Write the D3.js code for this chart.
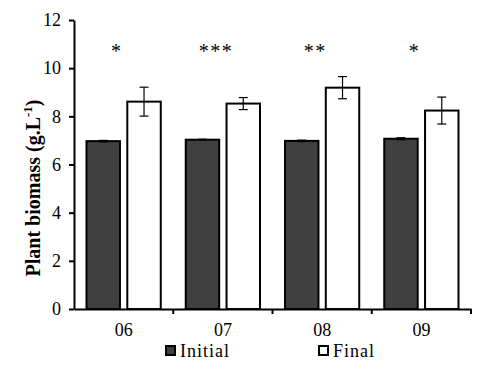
<!DOCTYPE html>
<html>
<head>
<meta charset="utf-8">
<script src="https://cdn.jsdelivr.net/npm/d3@7"></script>
<style>
  body { margin: 0; background: #fff; }
  svg text { font-family: "Liberation Serif", "Times New Roman", serif; fill: #000; }
</style>
</head>
<body>
<svg id="drawing_region"></svg>
<script>
// chart values
const categories = ['06', '07', '08', '09'];
const series = ['Initial', 'Final'];
const initialValues = [6.97, 7.03, 6.98, 7.07];
const initialErrors = [0.03, 0.02, 0.03, 0.04];
const finalValues = [8.61, 8.53, 9.19, 8.24];
const finalErrors = [0.60, 0.25, 0.46, 0.56];
const significance = ['*', '***', '**', '*'];
const yTicks = [0, 2, 4, 6, 8, 10, 12];

const config = {
    width: 492,
    height: 374,
    margin: {top: 20, right: 21, bottom: 65, left: 74}
};

const fills = {Initial: '#404040', Final: '#ffffff'};
const serif = '"Liberation Serif", "Times New Roman", serif';

const data = categories.map((c, i) => ({
    cat: c,
    sig: significance[i],
    bars: [
        {key: 'Initial', value: initialValues[i], err: initialErrors[i]},
        {key: 'Final', value: finalValues[i], err: finalErrors[i]}
    ]
}));

const svg = d3.select('#drawing_region')
    .attr('width', config.width)
    .attr('height', config.height);

const inner_width = config.width - config.margin.left - config.margin.right;
const inner_height = config.height - config.margin.top - config.margin.bottom;

const chart = svg.append('g')
    .attr('transform', `translate(${config.margin.left}, ${config.margin.top})`);

const xscale = d3.scaleBand()
    .domain(categories)
    .range([0, inner_width]);

const x1 = d3.scaleBand()
    .domain(series)
    .range([12.5, xscale.bandwidth() - 12.5])
    .paddingInner(0.18);

const yscale = d3.scaleLinear()
    .domain([0, 12])
    .range([inner_height, 0]);

// bars
const groups = chart.selectAll('.group')
    .data(data)
    .join('g')
    .attr('class', 'group')
    .attr('transform', d => `translate(${xscale(d.cat)}, 0)`);

groups.selectAll('rect')
    .data(d => d.bars)
    .join('rect')
    .attr('x', d => x1(d.key))
    .attr('y', d => yscale(d.value))
    .attr('width', x1.bandwidth())
    .attr('height', d => inner_height - yscale(d.value))
    .attr('fill', d => fills[d.key])
    .attr('stroke', '#000')
    .attr('stroke-width', 2);

// error bars
const eb = groups.selectAll('.err')
    .data(d => d.bars)
    .join('g')
    .attr('class', 'err')
    .attr('stroke', '#000')
    .attr('stroke-width', 1.2);

const cx = d => x1(d.key) + x1.bandwidth() / 2;
eb.append('line')
    .attr('x1', cx).attr('x2', cx)
    .attr('y1', d => yscale(d.value + d.err))
    .attr('y2', d => yscale(d.value - d.err));
eb.append('line')
    .attr('x1', d => cx(d) - 4.5).attr('x2', d => cx(d) + 4.5)
    .attr('y1', d => yscale(d.value + d.err))
    .attr('y2', d => yscale(d.value + d.err));
eb.append('line')
    .attr('x1', d => cx(d) - 4.5).attr('x2', d => cx(d) + 4.5)
    .attr('y1', d => yscale(d.value - d.err))
    .attr('y2', d => yscale(d.value - d.err));

// significance stars (sit a little left of the group centre)
groups.append('text')
    .attr('x', xscale.bandwidth() / 2 - 7)
    .attr('y', 38)
    .attr('text-anchor', 'middle')
    .attr('font-family', serif)
    .attr('font-size', 20)
    .attr('letter-spacing', 1.5)
    .attr('fill', '#222')
    .text(d => d.sig);

// axes
const yaxis = d3.axisLeft(yscale)
    .tickValues(yTicks)
    .tickSize(5)
    .tickSizeOuter(0)
    .tickPadding(8);

const yaxis_group = chart.append('g').call(yaxis);

const xaxis = d3.axisBottom(xscale)
    .tickSize(0)
    .tickSizeOuter(0)
    .tickPadding(14);

const xaxis_group = chart.append('g')
    .attr('transform', `translate(0, ${inner_height})`)
    .call(xaxis);

// category boundary ticks
xaxis_group.selectAll('.bound')
    .data(categories)
    .join('line')
    .attr('class', 'bound')
    .attr('x1', d => xscale(d) + xscale.bandwidth())
    .attr('x2', d => xscale(d) + xscale.bandwidth())
    .attr('y1', 0)
    .attr('y2', 5)
    .attr('stroke', '#000')
    .attr('stroke-width', 2);

[yaxis_group, xaxis_group].forEach(g => {
    g.attr('font-family', serif);
    g.select('.domain').attr('stroke', '#000').attr('stroke-width', 2);
    g.selectAll('.tick line').attr('stroke', '#000').attr('stroke-width', 2);
    g.selectAll('text')
        .attr('font-family', serif)
        .attr('font-size', 18)
        .attr('fill', '#000');
});

// y label
const ylabel = svg.append('text')
    .attr('transform', `translate(40, ${config.margin.top + 168}) rotate(-90)`)
    .attr('text-anchor', 'middle')
    .attr('font-family', serif)
    .attr('font-size', 20)
    .attr('font-weight', 'bold');
ylabel.append('tspan').text('Plant biomass (g.L');
ylabel.append('tspan').attr('dy', -8).attr('font-size', 13).text('-1');
ylabel.append('tspan').attr('dy', 8).text(')');

// legend
const legendX = [165, 318];
const legend = svg.append('g')
    .selectAll('g')
    .data(series)
    .join('g')
    .attr('transform', (d, i) => `translate(${legendX[i]}, 345)`);

legend.append('rect')
    .attr('x', 1)
    .attr('y', 1)
    .attr('width', 9)
    .attr('height', 9)
    .attr('fill', d => fills[d])
    .attr('stroke', '#000')
    .attr('stroke-width', 2);

legend.append('text')
    .attr('x', 15)
    .attr('y', 12)
    .attr('font-family', serif)
    .attr('font-size', 18)
    .attr('letter-spacing', 1)
    .text(d => d);
</script>
</body>
</html>
